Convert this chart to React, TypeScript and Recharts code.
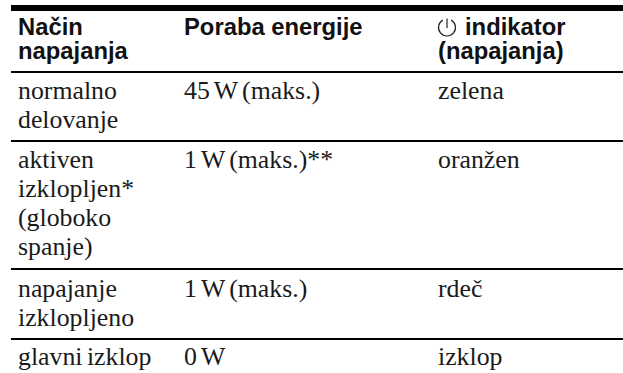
import { ComposedChart, Scatter, ReferenceLine, XAxis, YAxis } from 'recharts'

const WIDTH = 623
const HEIGHT = 373

const HEADER_CELLS = [
  ['Način', 'napajanja'],
  ['Poraba energije'],
  ['indikator', '(napajanja)'],
]

const BODY_ROWS = [
  [['normalno', 'delovanje'], ['45 W (maks.)'], ['zelena']],
  [['aktiven', 'izklopljen*', '(globoko', 'spanje)'], ['1 W (maks.)**'], ['oranžen']],
  [['napajanje', 'izklopljeno'], ['1 W (maks.)'], ['rdeč']],
  [['glavni izklop'], ['0 W'], ['izklop']],
]

// axis units are picture pixels, the table has no real value scale
const COLUMN_STARTS = [18, 184, 438]
const ROW_BASELINES = [99, 168, 297, 365]
const RULES = [72, 141, 269, 339]
const RULE_START = 11

const HEADER_BASELINE = 35
const HEADER_LEADING = 23.5
const BODY_LEADING = 29
const ICON_WIDTH = 27

const headerData = HEADER_CELLS.flatMap((lines, col) =>
  lines.map((text, i) => ({
    x: COLUMN_STARTS[col] + (col === 2 && i === 0 ? ICON_WIDTH : 0),
    y: HEADER_BASELINE + i * HEADER_LEADING,
    text,
  })),
)

const bodyData = BODY_ROWS.flatMap((row, r) =>
  row.flatMap((lines, col) =>
    lines.map((text, i) => ({
      x: COLUMN_STARTS[col],
      y: ROW_BASELINES[r] + i * BODY_LEADING,
      text,
    })),
  ),
)

const iconData = [{ x: 447, y: 27.5 }]

function HeaderText(props: any) {
  return (
    <text x={props.cx} y={props.cy} fontFamily="Liberation Sans" fontWeight={700} fontSize={23.8} fill="#111">
      {props.payload.text}
    </text>
  )
}

function BodyText(props: any) {
  return (
    <text x={props.cx} y={props.cy} fontFamily="Liberation Serif" fontSize={25.8} wordSpacing={-2} fill="#1a1a1a">
      {props.payload.text}
    </text>
  )
}

function PowerIcon(props: any) {
  const { cx, cy } = props
  const r = 8.5
  const gapX = 4.2
  const gapY = Math.sqrt(r * r - gapX * gapX)
  return (
    <g fill="none" stroke="#222" strokeWidth={1.2}>
      <path d={`M ${cx - gapX} ${cy - gapY} A ${r} ${r} 0 1 0 ${cx + gapX} ${cy - gapY}`} />
      <path d={`M ${cx} ${cy - r - 0.5} V ${cy + 0.5}`} />
    </g>
  )
}

export default function App() {
  return (
    <div style={{ position: 'fixed', left: 0, top: 0, width: WIDTH, height: HEIGHT, background: '#fff' }}>
      <ComposedChart width={WIDTH} height={HEIGHT} margin={{ top: 0, right: 0, bottom: 0, left: 0 }}>
        <XAxis type="number" dataKey="x" domain={[0, WIDTH]} hide />
        <YAxis type="number" dataKey="y" domain={[0, HEIGHT]} reversed hide />
        <ReferenceLine
          segment={[{ x: RULE_START, y: 8 }, { x: WIDTH, y: 8 }]}
          stroke="#000"
          strokeWidth={6}
        />
        {RULES.map(y => (
          <ReferenceLine
            key={y}
            segment={[{ x: RULE_START, y }, { x: WIDTH, y }]}
            stroke="#000"
            strokeWidth={2}
          />
        ))}
        <Scatter data={headerData} shape={HeaderText} isAnimationActive={false} />
        <Scatter data={bodyData} shape={BodyText} isAnimationActive={false} />
        <Scatter data={iconData} shape={PowerIcon} isAnimationActive={false} />
      </ComposedChart>
    </div>
  )
}
